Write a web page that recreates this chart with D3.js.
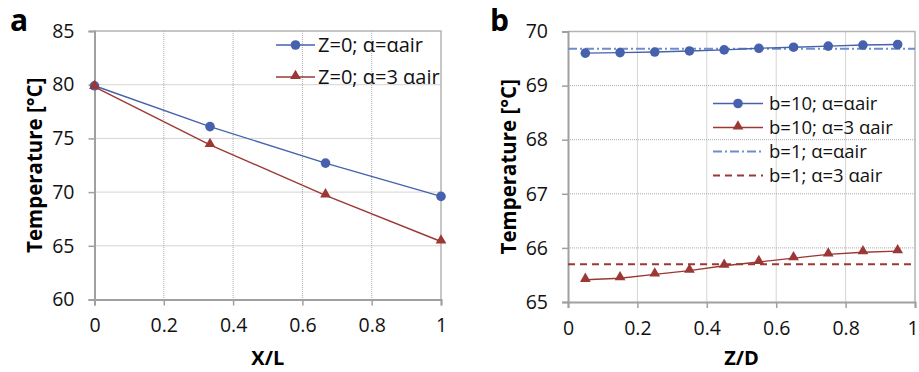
<!DOCTYPE html>
<html>
<head>
<meta charset="utf-8">
<script src="https://cdn.jsdelivr.net/npm/d3@7"></script>
<style>
  html, body { margin: 0; padding: 0; background: #fff; }
  svg { display: block; font-family: "Open Sans", sans-serif; }
</style>
</head>
<body>
<svg id="chart" width="919" height="372"></svg>
<script>
// panel a: temperature along X/L at Z=0
const xA = [0, 0.3333, 0.6667, 1];
const aAir = [79.9, 76.1, 72.7, 69.6];
const a3Air = [79.8, 74.4, 69.7, 65.4];
const xTicksA = [0, 0.2, 0.4, 0.6, 0.8, 1];
const yTicksA = [60, 65, 70, 75, 80, 85];

// panel b: temperature along Z/D
const zB = [0.05, 0.15, 0.25, 0.35, 0.45, 0.55, 0.65, 0.75, 0.85, 0.95];
const b10Air = [69.60, 69.61, 69.62, 69.64, 69.66, 69.69, 69.71, 69.73, 69.75, 69.76];
const b10_3Air = [65.41, 65.44, 65.51, 65.58, 65.67, 65.74, 65.81, 65.88, 65.92, 65.94];
const b1Air = 69.68;
const b1_3Air = 65.70;
const xTicksB = [0, 0.2, 0.4, 0.6, 0.8, 1];
const yTicksB = [65, 66, 67, 68, 69, 70];

const BLUE = '#4662ad';
const RED = '#9b3835';
const BLUE_LIGHT = '#6f8ccc';

const svg = d3.select('#chart');

function drawPanel(opt) {
  const g = svg.append('g');
  const x = d3.scaleLinear().domain(opt.xDomain).range([opt.left, opt.right]);
  const y = d3.scaleLinear().domain(opt.yDomain).range([opt.bottom, opt.top]);

  // dotted grid
  g.append('g').selectAll('line')
    .data(opt.yTicks.slice(1, -1))
    .enter().append('line')
    .attr('x1', opt.left).attr('x2', opt.right)
    .attr('y1', d => y(d)).attr('y2', d => y(d))
    .attr('stroke', '#a8a8a8').attr('stroke-width', 1)
    .attr('stroke-dasharray', '1,1');
  g.append('g').selectAll('line')
    .data(opt.xTicks.slice(1, -1))
    .enter().append('line')
    .attr('x1', d => x(d)).attr('x2', d => x(d))
    .attr('y1', opt.top).attr('y2', opt.bottom)
    .attr('stroke', '#a8a8a8').attr('stroke-width', 1)
    .attr('stroke-dasharray', '1,1');

  // frame top/right
  g.append('path')
    .attr('d', `M${opt.left},${opt.top}H${opt.right}V${opt.bottom}`)
    .attr('fill', 'none').attr('stroke', '#b4b4b4').attr('stroke-width', 1.5);

  // axes
  const yAxis = g.append('g')
    .attr('transform', `translate(${opt.left},0)`)
    .call(d3.axisLeft(y).tickValues(opt.yTicks).tickSize(6).tickPadding(14).tickFormat(d3.format('d')));
  const xAxis = g.append('g')
    .attr('transform', `translate(0,${opt.bottom})`)
    .call(d3.axisBottom(x).tickValues(opt.xTicks).tickSize(6).tickPadding(13).tickFormat(d => d === 0 || d === 1 ? d : d3.format('.1f')(d)));
  [yAxis, xAxis].forEach(ax => {
    ax.select('.domain').attr('stroke', '#a0a0a0').attr('stroke-width', 2);
    ax.selectAll('.tick line').attr('stroke', '#a0a0a0').attr('stroke-width', 1.5);
    ax.selectAll('text').attr('fill', '#111').style('font-size', '19.5px').style('font-family', '"Open Sans", sans-serif');
  });
  // keep the last x label inside the page edge
  if (opt.right > 900) xAxis.selectAll('.tick:last-of-type text').attr('dx', -2.5);

  // titles
  g.append('text')
    .attr('x', (opt.left + opt.right) / 2).attr('y', 365)
    .attr('text-anchor', 'middle')
    .style('font-size', '20px').style('font-weight', 'bold')
    .text(opt.xTitle);
  g.append('text')
    .attr('transform', `translate(${opt.yTitleX},${(opt.top + opt.bottom) / 2}) rotate(-90)`)
    .attr('text-anchor', 'middle')
    .style('font-size', '20.5px').style('font-weight', 'bold')
    .text('Temperature [°C]');
  g.append('text')
    .attr('x', opt.letterX).attr('y', 31)
    .style('font-size', '30px').style('font-weight', 'bold')
    .text(opt.letter);

  return { g, x, y };
}

function addMarkers(g, data, x, y, kind, color) {
  if (kind === 'circle') {
    g.selectAll(null).data(data).enter().append('circle')
      .attr('cx', d => x(d[0])).attr('cy', d => y(d[1]))
      .attr('r', 4.8).attr('fill', color);
  } else {
    const tri = d3.symbol().type(d3.symbolTriangle).size(50);
    g.selectAll(null).data(data).enter().append('path')
      .attr('d', tri)
      .attr('transform', d => `translate(${x(d[0])},${y(d[1]) - 1})`)
      .attr('fill', color);
  }
}

function addSeries(g, xs, ys, x, y, color, kind) {
  const data = xs.map((v, i) => [v, ys[i]]);
  g.append('path')
    .datum(data)
    .attr('d', d3.line().x(d => x(d[0])).y(d => y(d[1])))
    .attr('fill', 'none').attr('stroke', color).attr('stroke-width', 1.4);
  addMarkers(g, data, x, y, kind, color);
}

function legendRow(g, x0, x1, yy, textX, label, color, kind, dash, fs) {
  g.append('line')
    .attr('x1', x0).attr('x2', x1).attr('y1', yy).attr('y2', yy)
    .attr('stroke', color).attr('stroke-width', dash ? 2 : 1.4)
    .attr('stroke-dasharray', dash || null);
  if (kind) {
    const sx = d3.scaleLinear().domain([0, 1]).range([x0, x1]);
    addMarkers(g, [[0.5, 0]], sx, () => yy, kind, color);
  }
  g.append('text')
    .attr('x', textX).attr('y', yy).attr('dy', '0.35em')
    .style('font-size', fs + 'px').attr('fill', '#111')
    .text(label);
}

// ---- panel a
const pa = drawPanel({
  left: 94.5, right: 441, top: 31, bottom: 299.5,
  xDomain: [0, 1], yDomain: [60, 85],
  xTicks: xTicksA, yTicks: yTicksA,
  xTitle: 'X/L', yTitleX: 42, letter: 'a', letterX: 10
});
addSeries(pa.g, xA, aAir, pa.x, pa.y, BLUE, 'circle');
addSeries(pa.g, xA, a3Air, pa.x, pa.y, RED, 'triangle');
legendRow(pa.g, 276, 315, 45, 318, 'Z=0; α=αair', BLUE, 'circle', null, 20);
legendRow(pa.g, 276, 315, 77, 318, 'Z=0; α=3 αair', RED, 'triangle', null, 20);

// ---- panel b
const pb = drawPanel({
  left: 568, right: 915, top: 31.5, bottom: 302,
  xDomain: [0, 1], yDomain: [65, 70],
  xTicks: xTicksB, yTicks: yTicksB,
  xTitle: 'Z/D', yTitleX: 516, letter: 'b', letterX: 490
});
pb.g.append('line')
  .attr('x1', pb.x(0)).attr('x2', pb.x(1))
  .attr('y1', pb.y(b1Air)).attr('y2', pb.y(b1Air))
  .attr('stroke', BLUE_LIGHT).attr('stroke-width', 2)
  .attr('stroke-dasharray', '9,3,2,3');
pb.g.append('line')
  .attr('x1', pb.x(0)).attr('x2', pb.x(1))
  .attr('y1', pb.y(b1_3Air)).attr('y2', pb.y(b1_3Air))
  .attr('stroke', RED).attr('stroke-width', 2)
  .attr('stroke-dasharray', '7,5');
addSeries(pb.g, zB, b10Air, pb.x, pb.y, BLUE, 'circle');
addSeries(pb.g, zB, b10_3Air, pb.x, pb.y, RED, 'triangle');
legendRow(pb.g, 713, 763, 103.5, 769, 'b=10; α=αair', BLUE, 'circle', null, 18.5);
legendRow(pb.g, 713, 763, 127.5, 769, 'b=10; α=3 αair', RED, 'triangle', null, 18.5);
legendRow(pb.g, 713, 763, 151.5, 769, 'b=1; α=αair', BLUE_LIGHT, null, '9,3,2,3', 18.5);
legendRow(pb.g, 713, 763, 175.5, 769, 'b=1; α=3 αair', RED, null, '7,5', 18.5);
</script>
</body>
</html>
